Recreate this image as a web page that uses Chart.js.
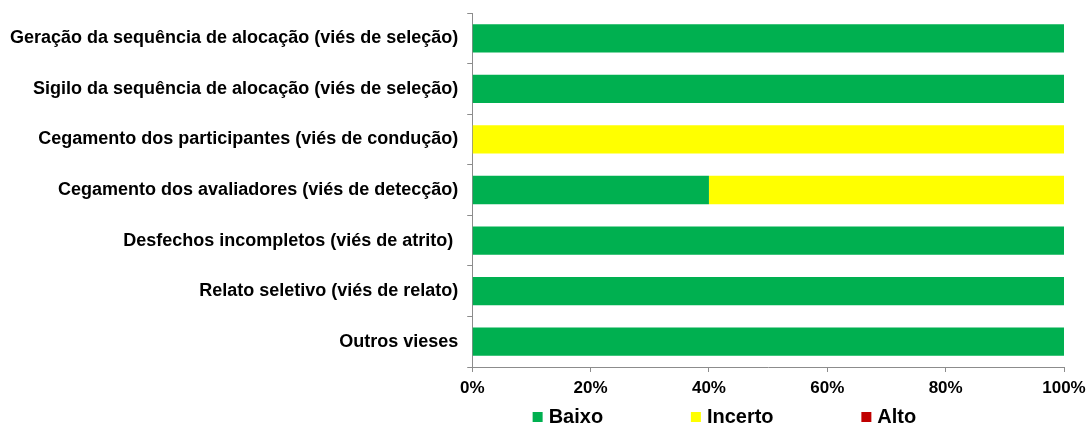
<!DOCTYPE html>
<html><head><meta charset="utf-8">
<script src="https://cdn.jsdelivr.net/npm/chart.js@4/dist/chart.umd.min.js"></script>
<style>html,body{margin:0;padding:0;background:#fff}#wrap{width:1088px;height:423px}</style>
</head><body><div id="wrap"><canvas id="c" width="1088" height="423"></canvas></div>
<script>
const categories = [
  "Geração da sequência de alocação (viés de seleção)",
  "Sigilo da sequência de alocação (viés de seleção)",
  "Cegamento dos participantes (viés de condução)",
  "Cegamento dos avaliadores (viés de detecção)",
  "Desfechos incompletos (viés de atrito) ",
  "Relato seletivo (viés de relato)",
  "Outros vieses"
];
const baixo = [100, 100, 0, 40, 100, 100, 100];
const incerto = [0, 0, 100, 60, 0, 0, 0];
const alto = [0, 0, 0, 0, 0, 0, 0];
const seriesNames = ["Baixo", "Incerto", "Alto"];
const xTicks = [0, 20, 40, 60, 80, 100];

// trailing spaces used only to space the legend items apart
const legendGap = ['\u00a0'.repeat(14) + '\u2009', '\u00a0'.repeat(14) + '\u2009', '\u00a0'.repeat(15)];

Chart.defaults.font.family = "'Liberation Sans', Arial, sans-serif";
Chart.defaults.color = "#000";
new Chart(document.getElementById('c'), {
  type: 'bar',
  data: {
    labels: categories,
    datasets: [
      {label: seriesNames[0], data: baixo, backgroundColor: '#00B050'},
      {label: seriesNames[1], data: incerto, backgroundColor: '#FFFF00'},
      {label: seriesNames[2], data: alto, backgroundColor: '#C00000'}
    ]
  },
  options: {
    indexAxis: 'y',
    responsive: false,
    animation: false,
    datasets: {bar: {categoryPercentage: 0.56, barPercentage: 1}},
    layout: {padding: {left: 1, right: 24, top: 13, bottom: 0}},
    plugins: {
      tooltip: {enabled: false},
      legend: {
        position: 'bottom',
        fullSize: false,
        maxHeight: 26,
        labels: {
          usePointStyle: true, pointStyle: 'rect',
          boxWidth: 2, boxHeight: 10, padding: 10,
          font: {size: 20, weight: 'bold'},
          generateLabels: chart => Chart.defaults.plugins.legend.labels.generateLabels(chart).map((it, i) => {
            it.text = it.text + legendGap[i];
            it.pointStyle = 'rect';
            it.lineWidth = 0;
            return it;
          })
        }
      }
    },
    scales: {
      x: {
        stacked: true, min: 0, max: 100,
        afterBuildTicks: s => { s.ticks = xTicks.map(v => ({value: v})); },
        afterFit: s => { s.paddingLeft = 0; s.paddingRight = 0; s.height = 30; },
        ticks: {callback: v => v + '%', font: {size: 17, weight: 'bold', lineHeight: 1}, padding: 8},
        grid: {drawOnChartArea: false, tickLength: 5, color: '#8c8c8c'},
        border: {color: '#8c8c8c'}
      },
      y: {
        stacked: true,
        afterFit: s => { s.paddingTop = 0; s.paddingBottom = 0; },
        ticks: {font: {size: 18, weight: 'bold'}, padding: 9},
        grid: {drawOnChartArea: false, tickLength: 5, color: '#8c8c8c'},
        border: {color: '#8c8c8c'}
      }
    }
  }
});
</script></body></html>
